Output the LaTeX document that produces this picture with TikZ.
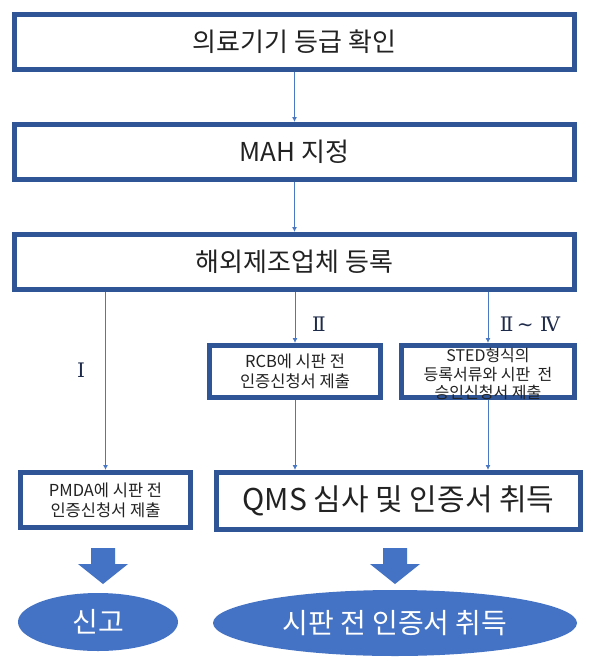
\documentclass[tikz,border=0pt]{standalone}
\usepackage{fontspec}
\setmainfont{Noto Sans CJK KR}
\newfontfamily\gradefont{DejaVu Serif}
\usetikzlibrary{arrows.meta}
\usetikzlibrary{shapes.geometric}
\definecolor{boxblue}{HTML}{2F5597}
\definecolor{lineblue}{HTML}{4A78C4}
\definecolor{fillblue}{HTML}{4472C4}
\definecolor{txtgray}{HTML}{222222}
\definecolor{gradenavy}{HTML}{1F2B4A}

\begin{document}
\begin{tikzpicture}[x=1pt,y=-1pt]
  \tikzset{box/.style = {shape=rectangle,draw=boxblue,line width=5pt,fill=white,text=txtgray,inner sep=1pt,align=center}}
  \tikzset{bigbox/.style = {box,minimum width=560pt,minimum height=55pt,font=\fontsize{26}{30}\selectfont}}
  \tikzset{smallbox/.style = {box,font=\fontsize{16.5}{20}\selectfont}}
  \tikzset{oval/.style = {shape=ellipse,fill=fillblue,text=white,inner sep=0pt,font=\fontsize{28}{32}\selectfont}}
  \tikzset{grade/.style = {text=gradenavy,font=\gradefont\fontsize{20}{22}\selectfont}}
  \tikzset{link/.style = {-{Latex[length=5pt,width=5pt]},draw=lineblue,line width=0.9pt}}

  \useasboundingbox[fill=white] (0,0) rectangle (590,667);

	\node[bigbox] (class) at (294.5,42) {의료기기 등급 확인};
	\node[bigbox] (mah) at (294.5,152) {MAH 지정};
	\node[bigbox] (maker) at (294.5,262) {해외제조업체 등록};

	\node[smallbox,minimum width=171pt,minimum height=52pt] (rcb) at (295,371.5) {RCB에 시판 전\\인증신청서 제출};
	\node[smallbox,minimum width=173pt,minimum height=52pt] (sted) at (488,371.5) {};
	\node[text=txtgray,align=center,font=\fontsize{16}{18.5}\selectfont] (stedtext) at (488,374) {STED형식의\\등록서류와 시판 \ 전\\승인신청서 제출};

	\node[smallbox,minimum width=170pt,minimum height=55pt] (pmda) at (105.5,500) {PMDA에 시판 전\\인증신청서 제출};
	\node[box,minimum width=364pt,minimum height=57pt,font=\fontsize{30}{34}\selectfont] (qms) at (398.5,501) {QMS 심사 및 인증서 취득};

	\node[oval,minimum width=160pt,minimum height=58pt] (notify) at (98,622) {신고};
	\node[oval,minimum width=364pt,minimum height=66pt] (cert) at (395,623) {시판 전 인증서 취득};

	\node[grade] (g1) at (81,370) {Ⅰ};
	\node[grade] (g2) at (319,324) {Ⅱ};
	\node[grade] (g3) at (530,324) {Ⅱ\,\textasciitilde\ Ⅳ};

	\foreach \from/\to in {class/mah, mah/maker}
    \draw[link] (\from) -- (\to);
	\foreach \to in {pmda, rcb, sted}
    \draw[link] (maker.south -| \to.north) -- (\to.north);
	\foreach \from in {rcb, sted}
    \draw[link] (\from.south) -- (\from.south |- qms.north);

	% block arrows
	\foreach \cx in {103,395}
    \fill[fillblue] (\cx-12,548) -- (\cx+12,548) -- (\cx+12,564) -- (\cx+25,564)
      -- (\cx,584) -- (\cx-25,564) -- (\cx-12,564) -- cycle;
\end{tikzpicture}
\end{document}
